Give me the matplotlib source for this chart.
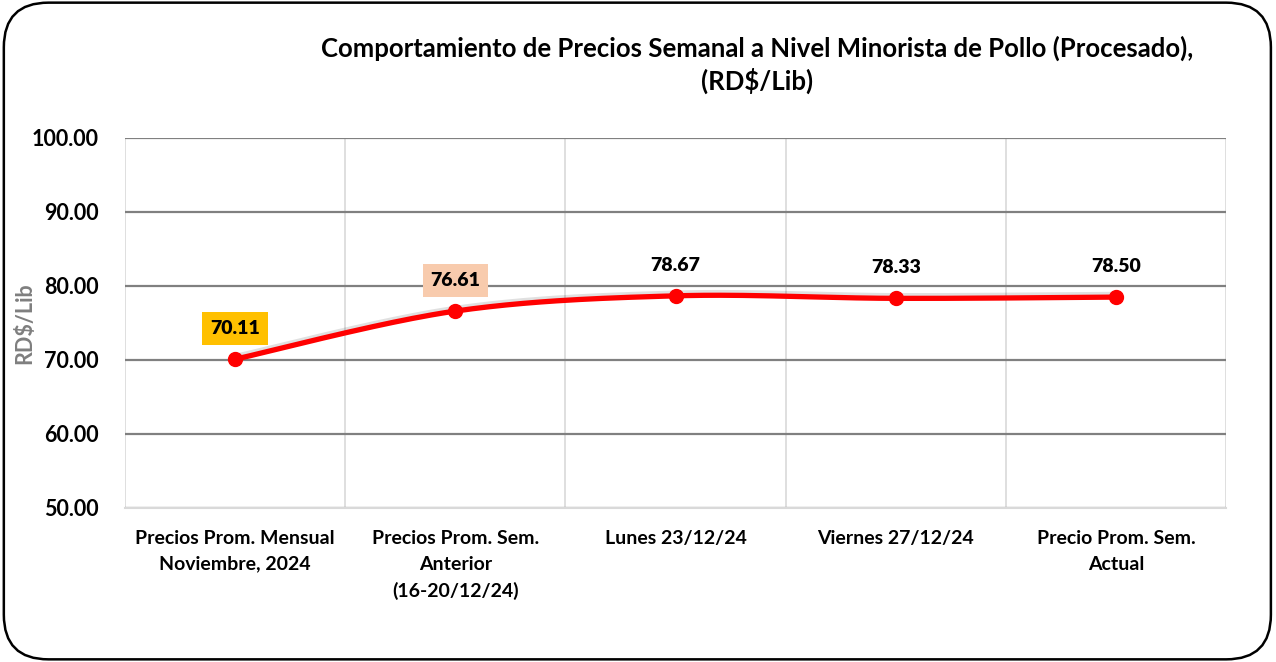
import numpy as np
import matplotlib.pyplot as plt
from matplotlib.patches import FancyBboxPatch

plt.rcParams['font.family'] = ['Lato', 'DejaVu Sans']

categories = ['Precios Prom. Mensual\nNoviembre, 2024',
              'Precios Prom. Sem.\nAnterior\n(16-20/12/24)',
              'Lunes 23/12/24',
              'Viernes 27/12/24',
              'Precio Prom. Sem.\nActual']
prices = [70.11, 76.61, 78.67, 78.33, 78.50]
label_colors = ['#FFC000', '#F8CBAD', None, None, None]
yticks = [50, 60, 70, 80, 90, 100]
title = 'Comportamiento de Precios Semanal a Nivel Minorista de Pollo (Procesado),\n(RD$/Lib)'


def smooth_curve(x, y, n=40, t=0.5):
    # cardinal spline like excel "smoothed line"
    x = np.asarray(x, float)
    y = np.asarray(y, float)
    px, py = [], []
    for i in range(len(x) - 1):
        x0, y0 = (x[i - 1], y[i - 1]) if i > 0 else (x[i], y[i])
        x3, y3 = (x[i + 2], y[i + 2]) if i + 2 < len(x) else (x[i + 1], y[i + 1])
        x1, y1, x2, y2 = x[i], y[i], x[i + 1], y[i + 1]
        c1x, c1y = x1 + (x2 - x0) * t / 3, y1 + (y2 - y0) * t / 3
        c2x, c2y = x2 - (x3 - x1) * t / 3, y2 - (y3 - y1) * t / 3
        s = np.linspace(0, 1, n)
        bx = (1-s)**3*x1 + 3*(1-s)**2*s*c1x + 3*(1-s)*s**2*c2x + s**3*x2
        by = (1-s)**3*y1 + 3*(1-s)**2*s*c1y + 3*(1-s)*s**2*c2y + s**3*y2
        px.extend(bx)
        py.extend(by)
    return np.array(px), np.array(py)


fig = plt.figure(figsize=(12.76, 6.62), dpi=100)
fig.patches.append(FancyBboxPatch((0.003, 0.004), 0.993, 0.992,
                                  boxstyle='round,pad=0,rounding_size=0.035',
                                  transform=fig.transFigure, fill=False,
                                  edgecolor='black', linewidth=1.8,
                                  mutation_aspect=1276/662))

ax = fig.add_axes([125/1276, 1 - 508/662, (1226-125)/1276, (508-138)/662])
xs = np.arange(len(prices))
sx, sy = smooth_curve(xs, prices)
ax.plot(sx, sy + 0.3, color='#000000', alpha=0.12, lw=4.5, zorder=2)
ax.plot(sx, sy, color='#FF0000', lw=3.8, zorder=3, solid_capstyle='round')
ax.plot(xs, prices, 'o', color='#FF0000', markersize=10, zorder=4)

for i, (v, c) in enumerate(zip(prices, label_colors)):
    bbox = dict(boxstyle='square,pad=0.4', facecolor=c, edgecolor='none') if c else None
    ax.annotate(f'{v:.2f}', (i, v), xytext=(0, 16), textcoords='offset points',
                ha='center', va='bottom', fontsize=14, fontweight='heavy',
                bbox=bbox, zorder=5)

ax.set_xlim(-0.5, len(prices) - 0.5)
ax.set_ylim(50, 100)
ax.set_yticks(yticks)
ax.set_yticklabels([f'{t:.2f}' for t in yticks], fontsize=15.5, fontweight='bold')
ax.set_xticks(xs)
ax.set_xticklabels(categories, fontsize=14, fontweight='bold', linespacing=1.6)
ax.tick_params(length=0, pad=19)
ax.tick_params(axis='x', pad=16)

ax.set_xticks(np.arange(-0.5, len(prices)), minor=True)
ax.tick_params(which='minor', length=0)
ax.grid(axis='y', which='major', color='#808080', lw=1.6)
ax.grid(axis='x', which='minor', color='#D9D9D9', lw=1.2)
ax.grid(axis='x', which='major', visible=False)
ax.set_axisbelow(True)
for s in ['top', 'right', 'left']:
    ax.spines[s].set_visible(False)
ax.spines['bottom'].set_color('#D9D9D9')
ax.spines['bottom'].set_linewidth(1.5)

fig.text(25/1276, 1 - 323/662, 'RD$/Lib', rotation=90, ha='center', va='center',
         fontsize=15.5, fontweight='bold', color='#7F7F7F')

fig.text(757/1276, 1 - 65/662, title, ha='center', va='center', fontsize=18.5,
         fontweight='bold', linespacing=1.3)

fig.savefig('out.png', dpi=100)
